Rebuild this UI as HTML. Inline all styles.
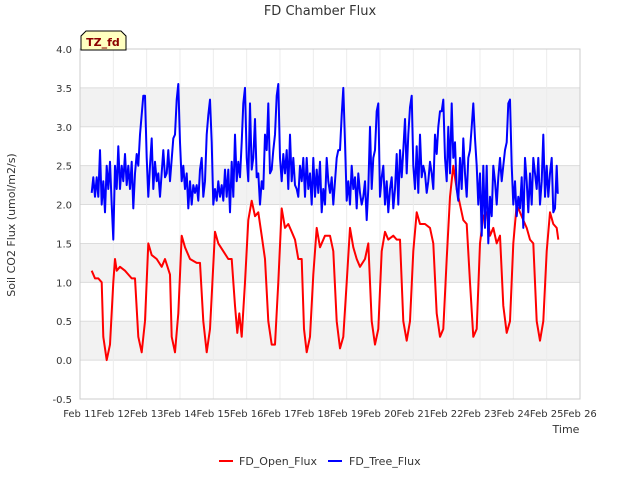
<!DOCTYPE html>
<html><head><meta charset="utf-8"><style>
body{margin:0;background:#fff;font-family:"Liberation Sans","DejaVu Sans",sans-serif}
svg text{font-family:"DejaVu Sans","Liberation Sans",sans-serif}
</style></head><body>
<svg id="c" width="640" height="480" xmlns="http://www.w3.org/2000/svg">
<text x="320" y="15" text-anchor="middle" font-size="13" fill="#333">FD Chamber Flux</text>
<g id="grid"></g><g id="series"></g><g id="axes"></g>
<text x="15" y="225" transform="rotate(-90 15 225)" text-anchor="middle" font-size="11" fill="#333">Soil CO2 Flux (umol/m2/s)</text>
<text x="566" y="433" text-anchor="middle" font-size="11" fill="#333">Time</text>
<g><path d="M81,50 L81,36 L86,31 L121,31 L126,36 L126,50 Z" fill="#ffffc0" stroke="#000"/><text x="103" y="46" text-anchor="middle" font-size="11" font-weight="bold" fill="#8b0000">TZ_fd</text></g>
<g><line x1="219" y1="461" x2="233" y2="461" stroke="#ff0000" stroke-width="2"/><text x="239" y="465" font-size="11" fill="#333">FD_Open_Flux</text></g>
<g><line x1="328" y1="461" x2="342" y2="461" stroke="#0000ff" stroke-width="2"/><text x="349" y="465" font-size="11" fill="#333">FD_Tree_Flux</text></g>
</svg>
<script>
const xTickLabels=["Feb 11","Feb 12","Feb 13","Feb 14","Feb 15","Feb 16","Feb 17","Feb 18","Feb 19","Feb 20","Feb 21","Feb 22","Feb 23","Feb 24","Feb 25","Feb 26"];
const yTicks=[-0.5,0,0.5,1,1.5,2,2.5,3,3.5,4];
const openT=[0.35,0.45,0.55,0.65,0.7,0.8,0.9,1.0,1.05,1.1,1.2,1.35,1.55,1.65,1.75,1.85,1.95,2.05,2.15,2.3,2.45,2.55,2.7,2.75,2.85,2.95,3.05,3.15,3.3,3.5,3.6,3.7,3.8,3.9,4.05,4.15,4.3,4.45,4.55,4.65,4.72,4.78,4.85,4.95,5.05,5.15,5.25,5.35,5.45,5.55,5.65,5.75,5.85,5.95,6.05,6.15,6.25,6.35,6.45,6.55,6.65,6.72,6.8,6.9,7.0,7.1,7.2,7.35,7.5,7.6,7.7,7.8,7.9,8.0,8.1,8.2,8.3,8.4,8.55,8.65,8.75,8.85,8.95,9.05,9.15,9.25,9.4,9.5,9.6,9.7,9.8,9.9,10.0,10.1,10.2,10.35,10.5,10.6,10.7,10.8,10.9,11.0,11.1,11.2,11.3,11.4,11.5,11.6,11.7,11.8,11.9,12.0,12.1,12.2,12.3,12.4,12.5,12.6,12.7,12.8,12.9,13.0,13.1,13.2,13.3,13.4,13.5,13.6,13.7,13.8,13.9,14.0,14.1,14.2,14.3,14.35];
const openV=[1.15,1.05,1.05,1.0,0.3,0.0,0.2,1.0,1.3,1.15,1.2,1.15,1.05,1.05,0.3,0.1,0.5,1.5,1.35,1.3,1.2,1.3,1.1,0.3,0.1,0.6,1.6,1.45,1.3,1.25,1.25,0.5,0.1,0.4,1.65,1.5,1.4,1.3,1.3,0.7,0.35,0.6,0.3,1.0,1.8,2.05,1.85,1.9,1.6,1.3,0.5,0.2,0.2,1.0,1.95,1.7,1.75,1.65,1.55,1.3,1.3,0.4,0.1,0.3,1.1,1.7,1.45,1.6,1.6,1.4,0.5,0.15,0.3,1.0,1.7,1.45,1.3,1.2,1.3,1.5,0.5,0.2,0.4,1.4,1.65,1.55,1.6,1.55,1.55,0.5,0.25,0.5,1.4,1.9,1.75,1.75,1.7,1.5,0.6,0.3,0.4,1.3,2.1,2.5,2.2,2.0,1.8,1.75,1.0,0.3,0.4,1.5,1.85,1.9,1.6,1.7,1.5,1.6,0.7,0.35,0.5,1.5,2.0,1.9,1.8,1.7,1.55,1.5,0.5,0.25,0.5,1.4,1.9,1.75,1.7,1.55];
const treeT=[0.35,0.4,0.45,0.5,0.55,0.6,0.65,0.7,0.75,0.8,0.85,0.9,0.95,1.0,1.05,1.1,1.15,1.2,1.25,1.3,1.35,1.4,1.45,1.5,1.55,1.6,1.65,1.7,1.75,1.8,1.9,1.95,2.0,2.05,2.1,2.15,2.2,2.25,2.3,2.35,2.4,2.5,2.55,2.6,2.65,2.7,2.8,2.85,2.9,2.95,3.0,3.05,3.1,3.15,3.2,3.25,3.3,3.35,3.4,3.45,3.5,3.55,3.6,3.65,3.7,3.75,3.8,3.85,3.9,3.95,4.0,4.05,4.1,4.15,4.2,4.25,4.3,4.35,4.4,4.45,4.5,4.55,4.6,4.65,4.7,4.75,4.8,4.85,4.9,4.95,5.0,5.05,5.1,5.15,5.2,5.25,5.3,5.35,5.4,5.45,5.5,5.55,5.6,5.65,5.7,5.75,5.8,5.85,5.9,5.95,6.0,6.05,6.1,6.15,6.2,6.25,6.3,6.35,6.4,6.45,6.5,6.55,6.6,6.65,6.7,6.75,6.8,6.85,6.9,6.95,7.0,7.05,7.1,7.15,7.2,7.25,7.3,7.35,7.4,7.45,7.5,7.55,7.6,7.65,7.7,7.75,7.8,7.85,7.9,7.95,8.0,8.05,8.1,8.15,8.2,8.25,8.3,8.35,8.4,8.45,8.5,8.55,8.6,8.65,8.7,8.75,8.8,8.85,8.9,8.95,9.0,9.05,9.1,9.15,9.2,9.25,9.3,9.35,9.4,9.45,9.5,9.55,9.6,9.65,9.7,9.75,9.8,9.85,9.9,9.95,10.0,10.05,10.1,10.15,10.2,10.25,10.3,10.35,10.4,10.45,10.5,10.55,10.6,10.65,10.7,10.75,10.8,10.85,10.9,10.95,11.0,11.05,11.1,11.15,11.2,11.25,11.3,11.35,11.4,11.45,11.5,11.55,11.6,11.65,11.7,11.75,11.8,11.85,11.9,11.95,12.0,12.05,12.1,12.15,12.2,12.25,12.3,12.35,12.4,12.45,12.5,12.55,12.6,12.65,12.7,12.75,12.8,12.85,12.9,12.95,13.0,13.05,13.1,13.15,13.2,13.25,13.3,13.35,13.4,13.45,13.5,13.55,13.6,13.65,13.7,13.75,13.8,13.85,13.9,13.95,14.0,14.05,14.1,14.15,14.2,14.25,14.3,14.33,14.36];
const treeV=[2.15,2.35,2.1,2.35,2.1,2.7,2.0,2.3,1.9,2.5,2.2,2.55,2.0,1.55,2.5,2.2,2.75,2.2,2.5,2.3,2.65,2.25,2.5,2.2,2.55,1.95,2.4,2.65,2.5,2.9,3.4,3.4,2.6,2.1,2.5,2.85,2.2,2.55,2.3,2.4,2.1,2.7,2.35,2.4,2.7,2.3,2.85,2.9,3.35,3.55,2.8,2.3,2.5,2.2,2.4,1.95,2.3,2.0,2.25,2.15,2.25,2.05,2.45,2.6,2.1,2.3,2.9,3.15,3.35,2.8,2.0,2.2,2.05,2.3,2.1,2.25,2.05,2.45,2.1,2.45,1.9,2.55,2.1,2.9,2.3,2.55,2.35,2.8,3.3,3.5,2.6,2.3,3.3,2.45,2.6,3.1,2.35,2.4,2.0,2.3,2.2,2.9,2.7,3.3,2.4,2.45,2.7,2.9,3.4,3.55,2.6,2.3,2.65,2.4,2.7,2.2,2.9,2.3,2.6,2.25,2.2,2.1,2.5,2.3,2.6,2.1,2.6,2.2,2.4,2.0,2.6,2.1,2.45,2.15,2.55,1.9,2.2,2.0,2.6,2.3,2.15,2.35,2.0,2.3,2.6,2.7,2.7,3.15,3.5,2.8,2.05,2.3,2.0,2.5,2.2,2.35,1.95,2.4,2.15,2.0,2.1,2.3,1.8,2.2,3.0,2.2,2.6,2.7,3.2,3.3,2.1,2.35,2.5,2.0,2.3,1.9,2.2,2.35,1.95,2.2,2.65,2.0,2.7,2.35,2.7,3.1,2.4,2.9,3.25,3.4,2.5,2.2,2.75,2.15,2.9,2.35,2.5,2.4,2.15,2.3,2.55,2.4,2.2,2.9,2.65,3.0,3.2,3.2,3.35,2.6,2.3,3.0,2.4,3.3,2.6,2.8,2.2,2.05,2.6,2.2,2.85,2.4,2.1,2.6,2.7,3.0,3.3,2.85,2.5,2.0,2.4,1.6,2.5,1.7,2.5,1.5,2.1,1.85,2.5,2.3,2.0,2.35,2.6,2.3,2.5,2.7,2.8,3.3,3.35,2.5,2.0,2.3,1.85,2.1,1.95,2.35,1.7,2.6,2.3,1.9,2.4,2.0,2.6,2.4,2.2,2.6,2.0,2.3,2.9,2.1,2.5,2.1,2.4,2.6,1.9,1.95,2.5,2.15,2.15];
const X0=80,X1=580,Y0=49,Y1=399;
const xs=d=>X0+(X1-X0)*d/15;
const ys=v=>Y1-(Y1-Y0)*(v+0.5)/4.5;
const NS="http://www.w3.org/2000/svg";
function mk(tag,attrs,parent){const e=document.createElementNS(NS,tag);for(const k in attrs)e.setAttribute(k,attrs[k]);parent.appendChild(e);return e;}
const grid=document.getElementById('grid'),ser=document.getElementById('series'),ax=document.getElementById('axes');
const bg=mk('rect',{x:X0,y:Y0,width:X1-X0,height:Y1-Y0,fill:'#fff'},grid);


for(let i=0;i<yTicks.length-1;i++){
  if(yTicks[i]>=0 && Math.round(yTicks[i]*2)%2===0){
    const b=mk('rect',{x:X0,y:ys(yTicks[i+1]),width:X1-X0,height:ys(yTicks[i])-ys(yTicks[i+1]),fill:'#f2f2f2'},grid);
    
    
  }
}
yTicks.forEach(v=>{
  const l=mk('line',{x1:X0,x2:X1,y1:ys(v),y2:ys(v),stroke:'#dcdcdc'},grid);
  
  
  const t=mk('text',{x:X0-8,y:ys(v)+4,'text-anchor':'end','font-size':'10',fill:'#333'},ax);
  t.textContent=v.toFixed(1);
  
  
});
xTickLabels.forEach((s,i)=>{
  const l=mk('line',{x1:xs(i),x2:xs(i),y1:Y0,y2:Y1,stroke:'#ececec'},grid);
  
  
  const t=mk('text',{x:xs(i),y:Y1+18,'text-anchor':'middle','font-size':'10',fill:'#333'},ax);
  t.textContent=s;
  
  
});
const fr=mk('rect',{x:X0,y:Y0,width:X1-X0,height:Y1-Y0,fill:'none',stroke:'#ccc'},ax);


function line(T,V,color,name){
  const p=mk('path',{d:T.map((t,i)=>(i?'L':'M')+xs(t).toFixed(1)+','+ys(V[i]).toFixed(1)).join(''),fill:'none',stroke:color,'stroke-width':'2','stroke-linejoin':'round'},ser);
  
  
}
line(openT,openV,'#ff0000','open-flux-line');
line(treeT,treeV,'#0000ff','tree-flux-line');
</script>
</body></html>
